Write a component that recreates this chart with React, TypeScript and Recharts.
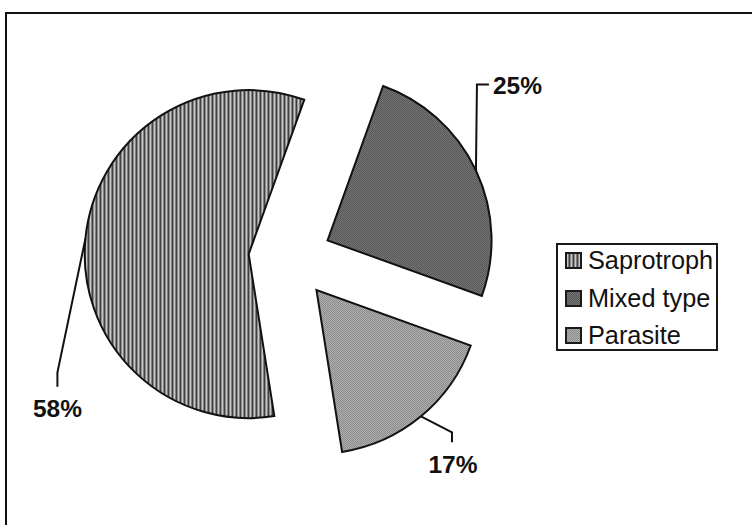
import React from "react";
import { PieChart, Pie, Cell, Legend } from "recharts";

const categories = ["Saprotroph", "Mixed type", "Parasite"];
const shares = [58, 25, 17];

const data = categories.map((name, i) => ({ name, value: shares[i] }));
const patternIds = ["pat-sapro", "pat-mixed", "pat-parasite"];

const FONT = "'Liberation Sans', Arial, sans-serif";
const CX = 290;
const CY = 258;
const R = 164;
const EXPLODE = 41.5;
const START = 279;
const RAD = Math.PI / 180;

// mid angle of each slice, going clockwise from START
const total = shares.reduce((a, b) => a + b, 0);
const midAngles = shares.map((v, i) => {
  const before = shares.slice(0, i).reduce((a, b) => a + b, 0);
  return START - ((before + v / 2) / total) * 360;
});

// leader line elbow / end and label spot, relative to the arc midpoint
const leaders = [
  { elbow: [-28, 134], end: [-28, 148], text: [-28, 178], anchor: "middle" },
  { elbow: [1, -86], end: [13, -86], text: [17, -77], anchor: "start" },
  { elbow: [31, 16], end: [31, 26], text: [32, 57], anchor: "middle" },
];

const makeLabel = (only: number) => (props: any) => {
  const { cx, cy, midAngle, outerRadius, index, value } = props;
  if (index !== only) return null;
  const ax = cx + outerRadius * Math.cos(-midAngle * RAD);
  const ay = cy + outerRadius * Math.sin(-midAngle * RAD);
  const l = leaders[index];
  const pts = [
    [ax, ay],
    [ax + l.elbow[0], ay + l.elbow[1]],
    [ax + l.end[0], ay + l.end[1]],
  ]
    .map((p) => p.join(","))
    .join(" ");
  return (
    <g>
      <polyline points={pts} fill="none" stroke="#111" strokeWidth={2} />
      <text
        x={ax + l.text[0]}
        y={ay + l.text[1]}
        textAnchor={l.anchor as any}
        fontFamily={FONT}
        fontWeight="bold"
        fontSize={24.5}
        fill="#111"
      >
        {value}%
      </text>
    </g>
  );
};

const renderLegend = (props: any) => {
  const seen = new Set<string>();
  const items = (props.payload || [])
    .filter((p: any) => {
      if (seen.has(p.value)) return false;
      seen.add(p.value);
      return true;
    })
    .sort((a: any, b: any) => categories.indexOf(a.value) - categories.indexOf(b.value));
  return (
    <div
      style={{
        boxSizing: "border-box",
        width: 162,
        height: 108,
        border: "2px solid #1a1a1a",
        background: "#fff",
        fontFamily: FONT,
        fontSize: 25.3,
        color: "#111",
      }}
    >
      <div style={{ marginTop: -3 }}>
        {items.map((p: any) => {
          const idx = categories.indexOf(p.value);
          return (
            <div
              key={p.value}
              style={{ height: 37.5, display: "flex", alignItems: "center", paddingLeft: 7 }}
            >
              <svg width={17} height={17} style={{ display: "block", marginRight: 6 }}>
                <rect
                  x={1}
                  y={1}
                  width={15}
                  height={15}
                  fill={`url(#${patternIds[idx]})`}
                  stroke="#1a1a1a"
                  strokeWidth={2}
                />
              </svg>
              <span style={{ lineHeight: "37.5px", whiteSpace: "nowrap" }}>{p.value}</span>
            </div>
          );
        })}
      </div>
    </div>
  );
};

export default function App() {
  return (
    <div
      style={{
        position: "absolute",
        left: 0,
        top: 0,
        width: 752,
        height: 525,
        overflow: "hidden",
        background: "#fff",
      }}
    >
      <div
        style={{
          position: "absolute",
          left: 5,
          top: 12,
          width: 800,
          height: 600,
          border: "2px solid #111",
        }}
      />
      <PieChart width={752} height={525} margin={{ top: 0, right: 0, bottom: 0, left: 0 }}>
        <defs>
          <pattern id="pat-sapro" width={4} height={4} patternUnits="userSpaceOnUse">
            <rect x={0} y={0} width={1} height={4} fill="#404040" />
            <rect x={1} y={0} width={1} height={4} fill="#8c8c8c" />
            <rect x={2} y={0} width={1} height={4} fill="#c8c8c8" />
            <rect x={3} y={0} width={1} height={4} fill="#808080" />
          </pattern>
          <pattern id="pat-mixed" width={2} height={2} patternUnits="userSpaceOnUse">
            <rect x={0} y={0} width={2} height={2} fill="#777" />
            <rect x={0} y={0} width={1} height={1} fill="#555" />
            <rect x={1} y={1} width={1} height={1} fill="#555" />
          </pattern>
          <pattern id="pat-parasite" width={2} height={2} patternUnits="userSpaceOnUse">
            <rect x={0} y={0} width={2} height={2} fill="#b0b0b0" />
            <rect x={0} y={0} width={1} height={1} fill="#8a8a8a" />
            <rect x={1} y={1} width={1} height={1} fill="#8a8a8a" />
          </pattern>
        </defs>
        {categories.map((cat, k) => (
          <Pie
            key={cat}
            data={data}
            dataKey="value"
            nameKey="name"
            cx={CX + EXPLODE * Math.cos(midAngles[k] * RAD)}
            cy={CY - EXPLODE * Math.sin(midAngles[k] * RAD)}
            outerRadius={R}
            innerRadius={0}
            startAngle={START}
            endAngle={START - 360}
            label={makeLabel(k)}
            labelLine={false}
            isAnimationActive={false}
          >
            {data.map((d, i) => (
              <Cell
                key={d.name}
                fill={i === k ? `url(#${patternIds[i]})` : "none"}
                stroke={i === k ? "#111" : "none"}
                strokeWidth={2}
              />
            ))}
          </Pie>
        ))}
        <Legend
          layout="vertical"
          align="right"
          verticalAlign="middle"
          wrapperStyle={{ left: 556, top: 243, right: "auto", width: 162 }}
          content={renderLegend}
        />
      </PieChart>
    </div>
  );
}
